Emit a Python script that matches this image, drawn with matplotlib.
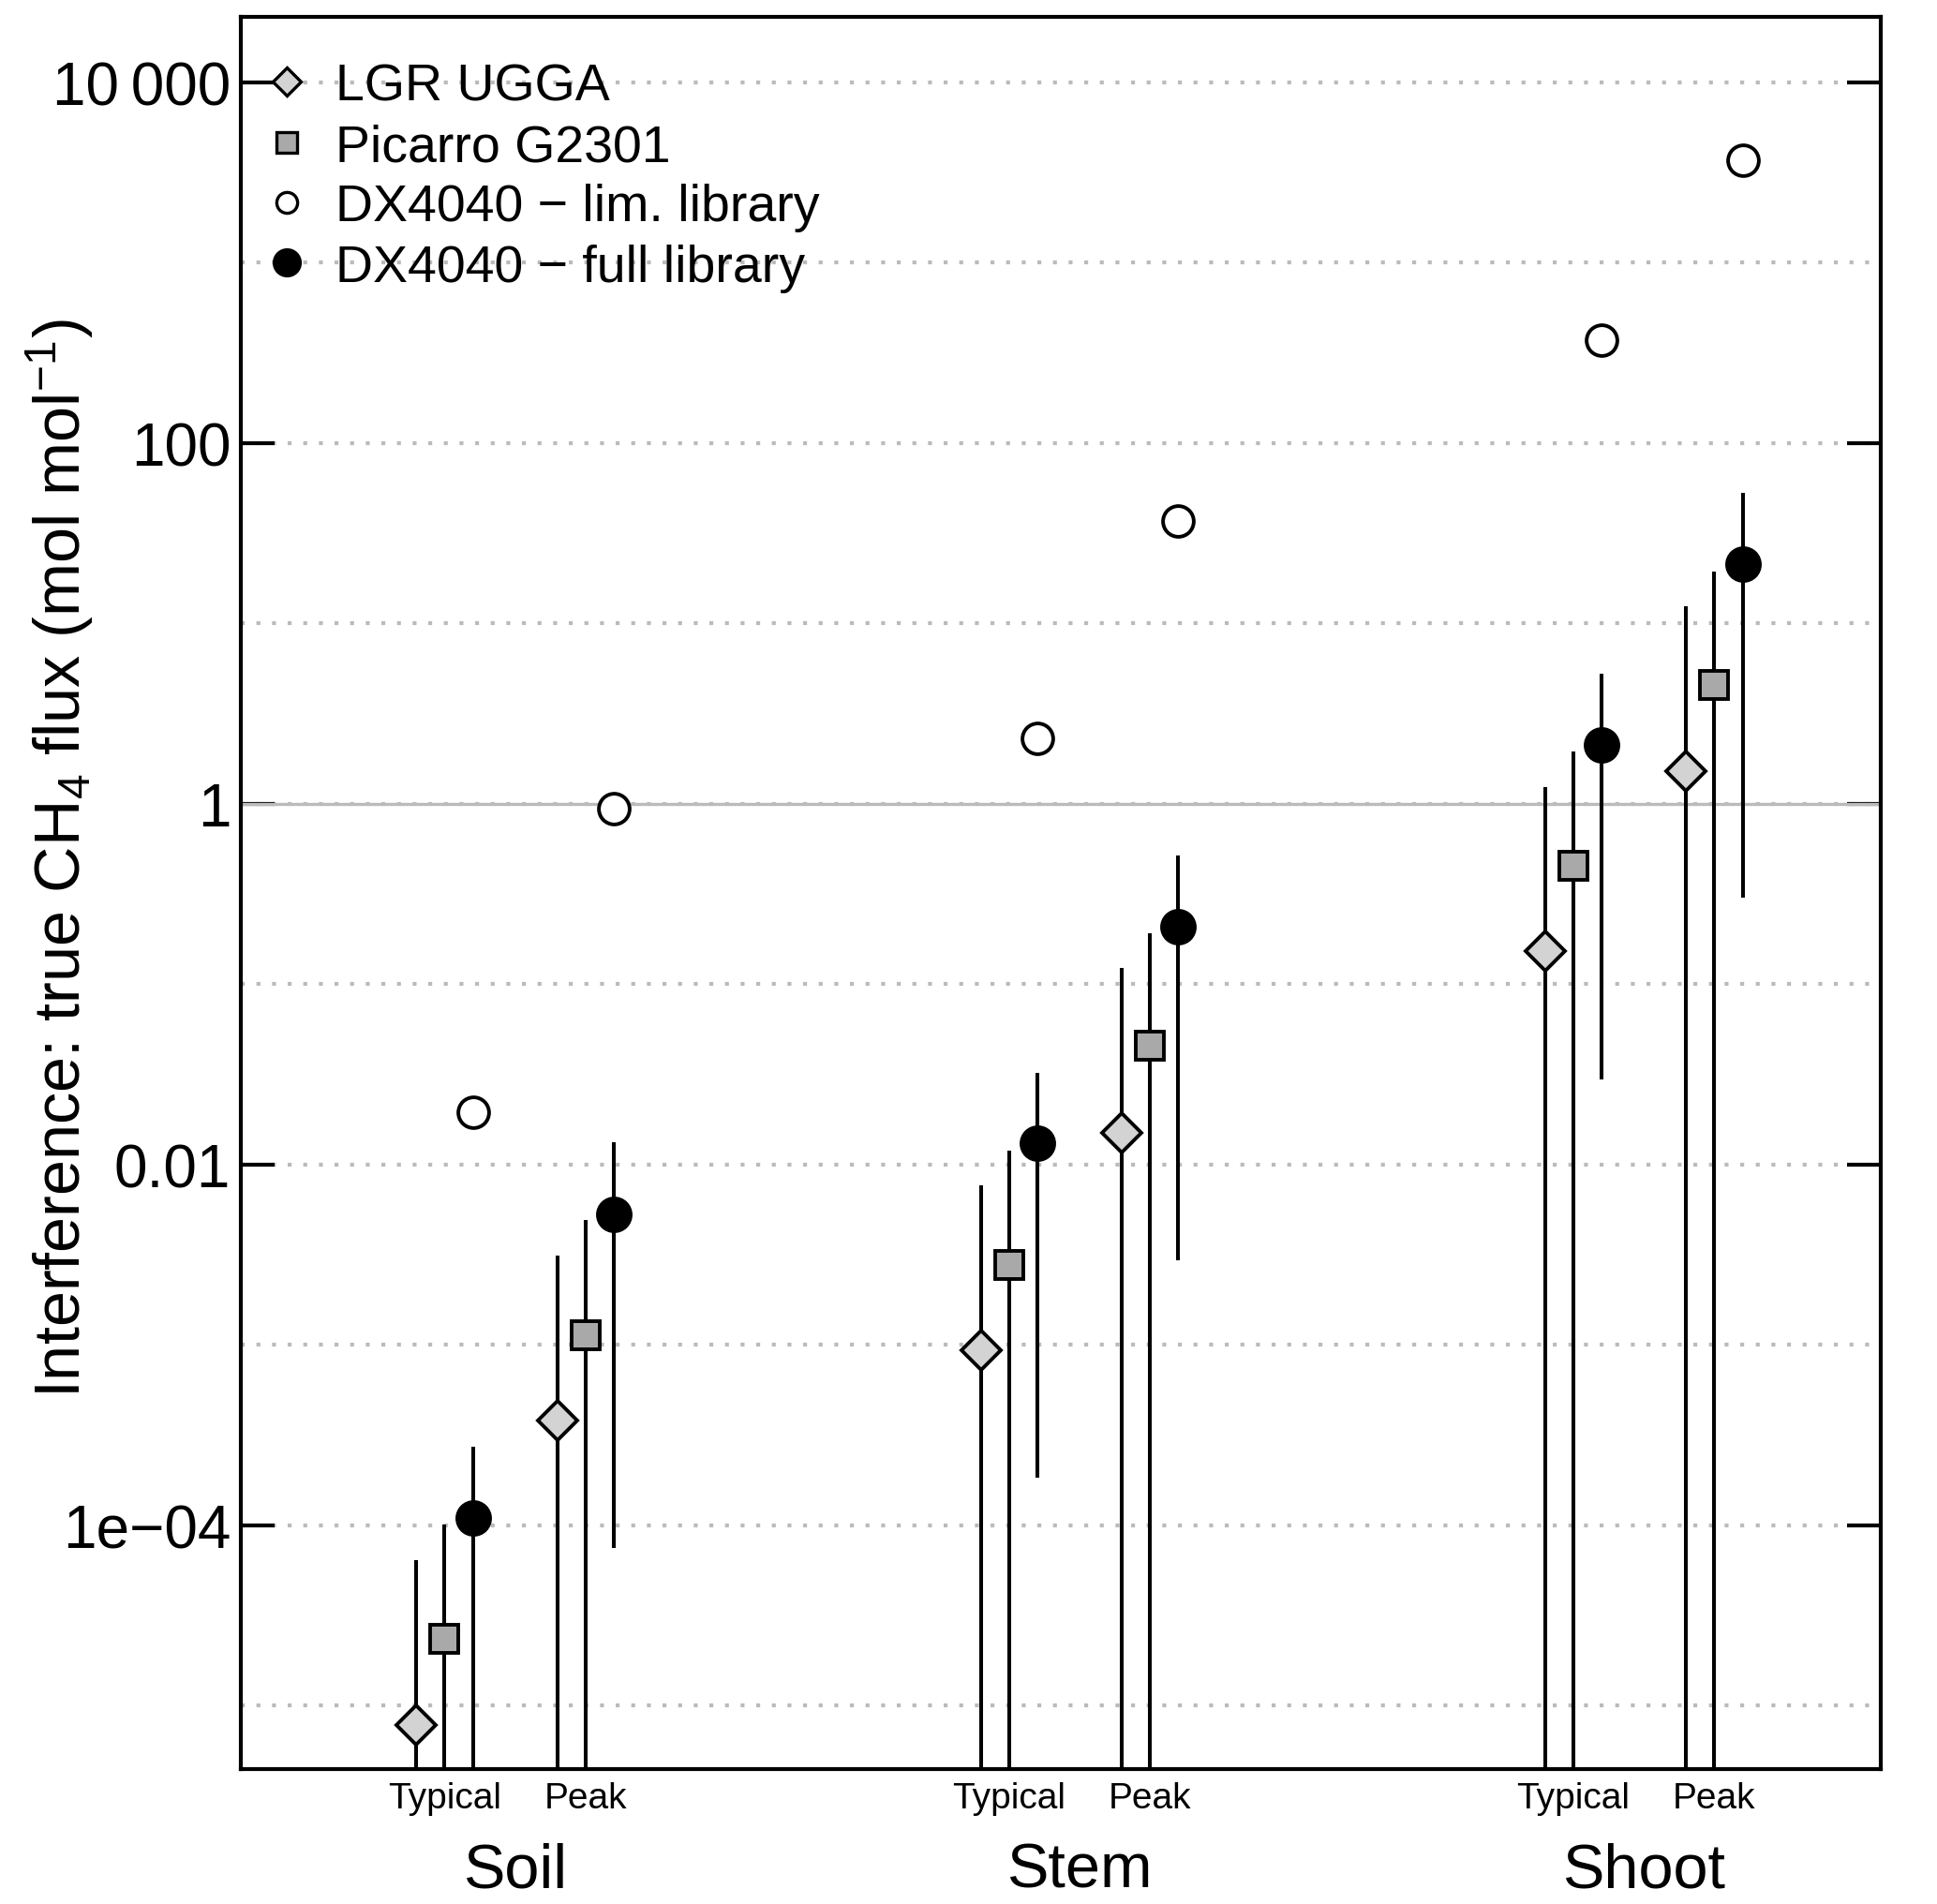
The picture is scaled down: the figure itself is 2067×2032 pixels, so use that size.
import numpy as np
import matplotlib
matplotlib.use("Agg")
from matplotlib import pyplot as plt
from matplotlib.lines import Line2D
from matplotlib.ticker import FixedLocator, FixedFormatter, LogLocator, NullFormatter

# order: Soil typical, Soil peak, Stem typical, Stem peak, Shoot typical, Shoot peak
groups = ["Soil", "Stem", "Shoot"]
levels = ["Typical", "Peak"]
positions = [1, 2, 5, 6, 9, 10]

lgr = [7.8e-6, 3.79e-4, 9.4e-4, 0.0150, 0.152, 1.51]
lgr_hi = [6.4e-5, 3.14e-3, 7.66e-3, 0.1225, 1.24, 12.5]
lgr_lo = [0, 0, 0, 0, 0, 0]

picarro = [2.35e-5, 1.135e-3, 2.79e-3, 0.0454, 0.455, 4.57]
picarro_hi = [1.01e-4, 4.92e-3, 0.0119, 0.192, 1.95, 19.5]
picarro_lo = [0, 0, 0, 0, 0, 0]

dx_lim = [0.0195, 0.94, 2.32, 37.1, 371, 3700]

dx_full = [1.10e-4, 5.28e-3, 0.0131, 0.209, 2.11, 21.4]
dx_full_hi = [2.72e-4, 0.0133, 0.0321, 0.519, 5.28, 53.1]
dx_full_lo = [1.56e-6, 7.5e-5, 1.84e-4, 2.94e-3, 0.0298, 0.301]

tick_vals = [1e-4, 1e-2, 1, 1e2, 1e4]
tick_labels = ["1e\u221204", "0.01", "1", "100", "10\u2009000"]

plt.rcParams['font.family'] = ['Liberation Sans', 'DejaVu Sans']
plt.rcParams['mathtext.fontset'] = 'custom'
plt.rcParams['mathtext.rm'] = 'Liberation Sans'
plt.rcParams['mathtext.it'] = 'Liberation Sans:italic'
plt.rcParams['mathtext.bf'] = 'Liberation Sans:bold'

fig = plt.figure(figsize=(10.335, 10.165), dpi=200)
ax = fig.add_axes([0.1243, 0.0709, 0.8467, 0.9196])

pos = np.array(positions, dtype=float)
off = 0.2
lw = 1.45

series = [
    (pos - off, lgr, lgr_lo, lgr_hi, dict(marker='D', ms=10.7, mfc='#d3d3d3')),
    (pos, picarro, picarro_lo, picarro_hi, dict(marker='s', ms=10.8, mfc='#a9a9a9')),
    (pos + off, dx_full, dx_full_lo, dx_full_hi, dict(marker='o', ms=12.6, mfc='black')),
]
for x, y, lo, hi, style in series:
    ax.vlines(x, lo, hi, color='black', lw=lw, zorder=2)
    ax.plot(x, y, ls='none', mec='black', mew=1.4, zorder=3, **style)
ax.plot(pos + off, dx_lim, ls='none', marker='o', ms=11.8, mfc='white', mec='black', mew=1.4, zorder=3)

ax.set_yscale('log')
ax.set_ylim(10 ** -5.351, 10 ** 4.362)
ax.set_xlim(-0.445, 11.18)

ax.yaxis.set_major_locator(FixedLocator(tick_vals))
ax.yaxis.set_major_formatter(FixedFormatter(tick_labels))
ax.yaxis.set_minor_locator(LogLocator(base=10, subs=(1.0,), numticks=30))
ax.yaxis.set_minor_formatter(NullFormatter())
ax.tick_params(axis='y', which='major', direction='in', length=13, width=1.5,
               left=True, right=True, labelsize=23, pad=3.8)
ax.tick_params(axis='y', which='minor', length=0)
ax.grid(axis='y', which='both', color='#bbbbbb', ls=(0, (1, 3)), lw=1.5, zorder=0)
ax.axhline(1, color='#bbbbbb', lw=1.2, zorder=1)

ax.set_xticks(pos)
ax.set_xticklabels(levels * len(groups))
ax.tick_params(axis='x', length=0, labelsize=14, pad=4.8)
for i, g in enumerate(groups):
    ax.text((pos[2 * i] + pos[2 * i + 1]) / 2, -0.058, g, transform=ax.get_xaxis_transform(),
            ha='center', va='center', fontsize=24)

for s in ax.spines.values():
    s.set_linewidth(1.5)
ax.set_axisbelow(True)

fig.text(0.031, 0.5494, r"Interference: true CH$_4$ flux (mol mol$^{-1}$)",
         rotation=90, ha='center', va='center', fontsize=24.6)

handles = [
    Line2D([], [], ls='none', marker='D', ms=7.4, mfc='#d3d3d3', mec='black', mew=1.2),
    Line2D([], [], ls='none', marker='s', ms=8.2, mfc='#a9a9a9', mec='black', mew=1.2),
    Line2D([], [], ls='none', marker='o', ms=8.0, mfc='white', mec='black', mew=1.2),
    Line2D([], [], ls='none', marker='o', ms=10.0, mfc='black', mec='black', mew=1.2),
]
labels = ["LGR UGGA", "Picarro G2301", "DX4040 \u2212 lim. library", "DX4040 \u2212 full library"]
ax.legend(handles, labels, loc='upper left', bbox_to_anchor=(0.012, 0.974), frameon=False,
          fontsize=20, handlelength=1.0, handletextpad=0.44, labelspacing=0.22,
          borderpad=0, borderaxespad=0)

fig.savefig("out.png", dpi=200)
